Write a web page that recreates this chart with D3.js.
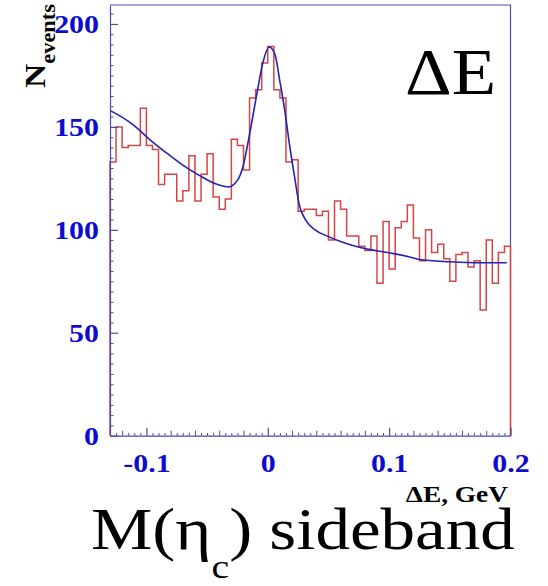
<!DOCTYPE html>
<html>
<head>
<meta charset="utf-8">
<script src="https://cdn.jsdelivr.net/npm/d3@7"></script>
<style>
  html, body { margin: 0; padding: 0; background: #fff; }
  svg { display: block; }
</style>
</head>
<body>
<svg id="chart" width="548" height="586"></svg>
<script>
// Histogram binning of Delta E (GeV)
const binLow = -0.13;
const binHigh = 0.2;
const binWidth = 0.005;

// Entries per bin
const counts = [
  133, 150, 140, 141, 141, 159, 141, 139, 122, 127,
  127, 114, 119, 136, 114, 127, 137, 116, 110, 115,
  144, 141, 129, 164, 168, 181, 189, 168, 164, 133,
  134, 109, 110, 110, 107, 109,  95, 114, 110,  97,
   97,  92,  90,  97,  74, 104,  81, 101, 104, 112,
   96,  85, 100,  89,  93,  86,  75,  88,  89,  82,
   85,  61,  95,  74,  89,  92
];

// Fitted curve, sampled (Delta E, events)
const fitX = [-0.13, -0.1106, -0.0968, -0.0831, -0.0694, -0.0557, -0.0419, -0.0326,
  -0.0245, -0.021, -0.0145, -0.009, -0.0045, 0.0011, 0.006, 0.010, 0.014, 0.018,
  0.022, 0.026, 0.031, 0.039, 0.050, 0.064, 0.077, 0.091, 0.105, 0.117, 0.125,
  0.150, 0.177, 0.197];
const fitY = [158, 150.9, 143.6, 137.2, 131.2, 126.2, 122.1, 120.8,
  124.5, 129.5, 148, 166, 180, 188.8, 185, 172, 158, 141,
  126, 112, 105, 100, 96.7, 93.5, 91.3, 89.7, 88.3, 86.8, 85.6,
  84.5, 84.0, 84.0];

// Axis ticks
const xMajorTicks = [-0.1, 0, 0.1, 0.2];
const xTickLabels = ["-0.1", "0", "0.1", "0.2"];
const yMajorTicks = [0, 50, 100, 150, 200];
const yTickLabels = ["0", "50", "100", "150", "200"];
const yMax = 209.2;

const svg = d3.select("#chart");
const axisColor = "#4b4ba8";
const labelColor = "#0c0cd0";
const serif = "'Liberation Serif', 'Times New Roman', serif";

const x = d3.scaleLinear().domain([binLow, binHigh]).range([110, 510.5]);
const y = d3.scaleLinear().domain([0, yMax]).range([435.7, 5]);

// frame top and right edges
svg.append("path")
  .attr("d", `M${x(binLow)},${y(yMax)}H${x(binHigh)}V${y(0)}`)
  .attr("fill", "none").attr("stroke", axisColor).attr("stroke-width", 1.2);

// histogram outline
const edges = d3.range(counts.length + 1).map(i => binLow + i * binWidth);
const stepPts = [[edges[0], 0]];
counts.forEach((c, i) => stepPts.push([edges[i], c]));
stepPts.push([edges[counts.length], counts[counts.length - 1]]);
stepPts.push([edges[counts.length], 0]);
const stepLine = d3.line().x(d => x(d[0])).y(d => y(d[1])).curve(d3.curveStepAfter);
svg.append("path")
  .attr("d", stepLine(stepPts))
  .attr("fill", "none").attr("stroke", "#d64545").attr("stroke-width", 1.5);

// fit curve
const fitPts = fitX.map((v, i) => [v, fitY[i]]);
const fitLine = d3.line().x(d => x(d[0])).y(d => y(d[1])).curve(d3.curveMonotoneX);
svg.append("path")
  .attr("d", fitLine(fitPts))
  .attr("fill", "none").attr("stroke", "#2222b4").attr("stroke-width", 1.6);

// Y axis: minor ticks every 5, major every 50 (ticks point into the frame)
const yMinor = d3.range(0, yMax, 5).filter(v => v % 50 !== 0);
svg.append("g").attr("transform", `translate(${x(binLow)},0)`)
  .call(d3.axisLeft(y).tickValues(yMinor).tickSize(-3.5).tickFormat(""))
  .call(g => g.select(".domain").remove())
  .call(g => g.selectAll("line").attr("stroke", axisColor));

const yAxisG = svg.append("g").attr("transform", `translate(${x(binLow)},0)`)
  .call(d3.axisLeft(y).tickValues(yMajorTicks).tickSizeInner(-8).tickSizeOuter(0)
    .tickFormat((d, i) => yTickLabels[i]));
yAxisG.select(".domain").attr("stroke", axisColor).attr("stroke-width", 1.2);
yAxisG.selectAll("line").attr("stroke", axisColor).attr("stroke-width", 1.2);
yAxisG.selectAll("text")
  .attr("x", 0).attr("dy", null).attr("y", 9)
  .attr("transform", "translate(-11,0) scale(1.15,1)")
  .attr("fill", labelColor)
  .attr("font-family", serif).attr("font-weight", "bold").attr("font-size", 26);

// X axis: minor ticks every 0.005, medium every 0.02, major every 0.1
const xMinor = d3.range(-130, 201, 5).map(v => v / 1000).filter(v => Math.round(v * 1000) % 20 !== 0);
const xMedium = d3.range(-120, 201, 20).map(v => v / 1000).filter(v => Math.round(v * 1000) % 100 !== 0);
svg.append("g").attr("transform", `translate(0,${y(0)})`)
  .call(d3.axisBottom(x).tickValues(xMinor).tickSize(-2.7).tickFormat(""))
  .call(g => g.select(".domain").remove())
  .call(g => g.selectAll("line").attr("stroke", axisColor));
svg.append("g").attr("transform", `translate(0,${y(0)})`)
  .call(d3.axisBottom(x).tickValues(xMedium).tickSize(-5).tickFormat(""))
  .call(g => g.select(".domain").remove())
  .call(g => g.selectAll("line").attr("stroke", axisColor));

const xAxisG = svg.append("g").attr("transform", `translate(0,${y(0)})`)
  .call(d3.axisBottom(x).tickValues(xMajorTicks).tickSizeInner(-8).tickSizeOuter(0)
    .tickFormat((d, i) => xTickLabels[i]));
xAxisG.select(".domain").attr("stroke", axisColor).attr("stroke-width", 1.2);
xAxisG.selectAll("line").attr("stroke", axisColor).attr("stroke-width", 1.2);
xAxisG.selectAll("text")
  .attr("y", 0).attr("dy", null)
  .attr("transform", "translate(0,35.8) scale(1.15,1)")
  .attr("fill", labelColor)
  .attr("font-family", serif).attr("font-weight", "bold").attr("font-size", 26);

// axis titles
svg.append("text")
  .attr("transform", "translate(508,502) scale(1.14,1)")
  .attr("text-anchor", "end")
  .attr("font-family", serif).attr("font-weight", "bold").attr("font-size", 24)
  .attr("fill", "#000")
  .text("\u0394E, GeV");

const yTitle = svg.append("text")
  .attr("transform", "translate(45,88) rotate(-90) scale(1.12,1)")
  .attr("font-family", serif).attr("font-weight", "bold").attr("fill", "#000");
yTitle.append("tspan").attr("font-size", 30).text("N");
yTitle.append("tspan").attr("font-size", 20).attr("dy", 10).text("events");

// panel label
svg.append("text")
  .attr("transform", "translate(405,94) scale(1.1,1)")
  .attr("font-family", serif).attr("font-size", 66).attr("fill", "#000")
  .text("\u0394E");

// selection caption
const caption = svg.append("text")
  .attr("transform", "translate(91,549) scale(1.17,1)")
  .attr("font-family", serif).attr("font-size", 59).attr("fill", "#000");
caption.append("tspan").text("M(\u03b7");
caption.append("tspan").attr("font-size", 34).attr("dy", 29).text("c");
caption.append("tspan").attr("font-size", 59).attr("dy", -29).text(") sideband");
</script>
</body>
</html>
